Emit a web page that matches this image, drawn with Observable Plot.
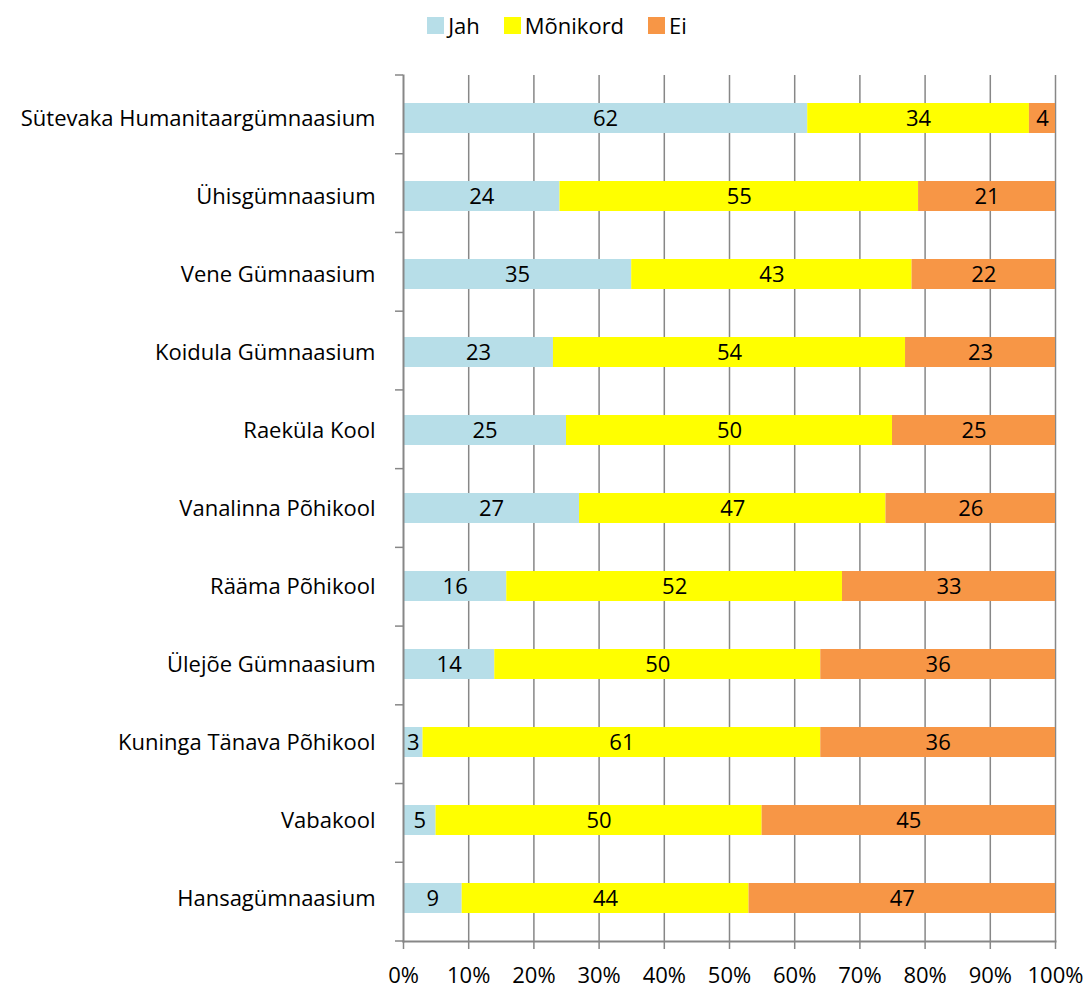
<!DOCTYPE html>
<html>
<head>
<meta charset="utf-8">
<script src="https://cdn.jsdelivr.net/npm/d3@7"></script>
<script src="https://cdn.jsdelivr.net/npm/@observablehq/plot@0.6"></script>
<style>
  html, body { margin: 0; padding: 0; background: #fff; }
  body { width: 1090px; height: 990px; font-family: "Open Sans", Lato, sans-serif; }
  #legend { height: 50px; display: flex; justify-content: center; align-items: center; padding-left: 24px; box-sizing: border-box; font-size: 22px; color: #000; }
  .item { display: flex; align-items: center; margin: 0 12px; }
  .sw { width: 17px; height: 17px; margin-right: 4px; }
</style>
</head>
<body>
<div id="legend"></div>
<div id="chart"></div>
<script>
const schools = [
  "Sütevaka Humanitaargümnaasium",
  "Ühisgümnaasium",
  "Vene Gümnaasium",
  "Koidula Gümnaasium",
  "Raeküla Kool",
  "Vanalinna Põhikool",
  "Rääma Põhikool",
  "Ülejõe Gümnaasium",
  "Kuninga Tänava Põhikool",
  "Vabakool",
  "Hansagümnaasium"
];
const answers = ["Jah", "Mõnikord", "Ei"];
const colors = ["#B7DEE8", "#FFFF00", "#F79646"];
const jah      = [62, 24, 35, 23, 25, 27, 16, 14, 3, 5, 9];
const monikord = [34, 55, 43, 54, 50, 47, 52, 50, 61, 50, 44];
const ei       = [4, 21, 22, 23, 25, 26, 33, 36, 36, 45, 47];
const xTicks = [0, 0.1, 0.2, 0.3, 0.4, 0.5, 0.6, 0.7, 0.8, 0.9, 1];

const series = [jah, monikord, ei];
const data = [];
schools.forEach((s, i) => {
  answers.forEach((a, j) => data.push({school: s, answer: a, value: series[j][i]}));
});

// legend
const legend = document.getElementById("legend");
answers.forEach((a, j) => {
  const it = document.createElement("div");
  it.className = "item";
  it.innerHTML = `<div class="sw" style="background:${colors[j]}"></div><span>${a}</span>`;
  legend.appendChild(it);
});

const axisColor = "#878787";

const boundaryTicks = (index, scales, values, dims) => {
  const g = document.createElementNS("http://www.w3.org/2000/svg", "g");
  const top = dims.marginTop, bottom = dims.height - dims.marginBottom;
  const n = schools.length;
  const step = (bottom - top) / n;
  for (let i = 0; i <= n; i++) {
    const l = document.createElementNS("http://www.w3.org/2000/svg", "line");
    const yy = top + i * step;
    l.setAttribute("x1", dims.marginLeft - 8);
    l.setAttribute("x2", dims.marginLeft);
    l.setAttribute("y1", yy);
    l.setAttribute("y2", yy);
    l.setAttribute("stroke", axisColor);
    l.setAttribute("stroke-width", 1.5);
    g.appendChild(l);
  }
  return g;
};

const chart = Plot.plot({
  width: 1090,
  height: 940,
  marginLeft: 403,
  marginRight: 35,
  marginTop: 25,
  marginBottom: 49,
  style: {fontFamily: "'Open Sans', Lato, sans-serif", fontSize: "22px", color: "#000", background: "#fff"},
  x: {domain: [0, 1], ticks: xTicks, tickFormat: d3.format(".0%"), label: null},
  y: {domain: schools, paddingInner: 0.62, paddingOuter: 0.31, label: null},
  color: {domain: answers, range: colors},
  marks: [
    Plot.ruleX(xTicks.slice(1), {stroke: axisColor, strokeWidth: 1.5}),
    Plot.barX(data, Plot.stackX({x: "value", y: "school", z: "answer", fill: "answer", order: answers, offset: "normalize"})),
    Plot.text(data, Plot.stackX({x: "value", y: "school", z: "answer", order: answers, offset: "normalize", text: d => String(d.value), fill: "#000", fontSize: 22})),
    Plot.axisX({ticks: xTicks, tickFormat: d3.format(".0%"), tickSize: 8, tickPadding: 18, stroke: axisColor, strokeWidth: 1.5, strokeOpacity: 1, fontSize: 22, label: null}),
    Plot.axisY({tickSize: 0, tickPadding: 28, fontSize: 22, label: null}),
    Plot.frame({anchor: "left", stroke: axisColor, strokeWidth: 2}),
    Plot.frame({anchor: "bottom", stroke: axisColor, strokeWidth: 2}),
    boundaryTicks
  ]
});
document.getElementById("chart").appendChild(chart);
</script>
</body>
</html>
